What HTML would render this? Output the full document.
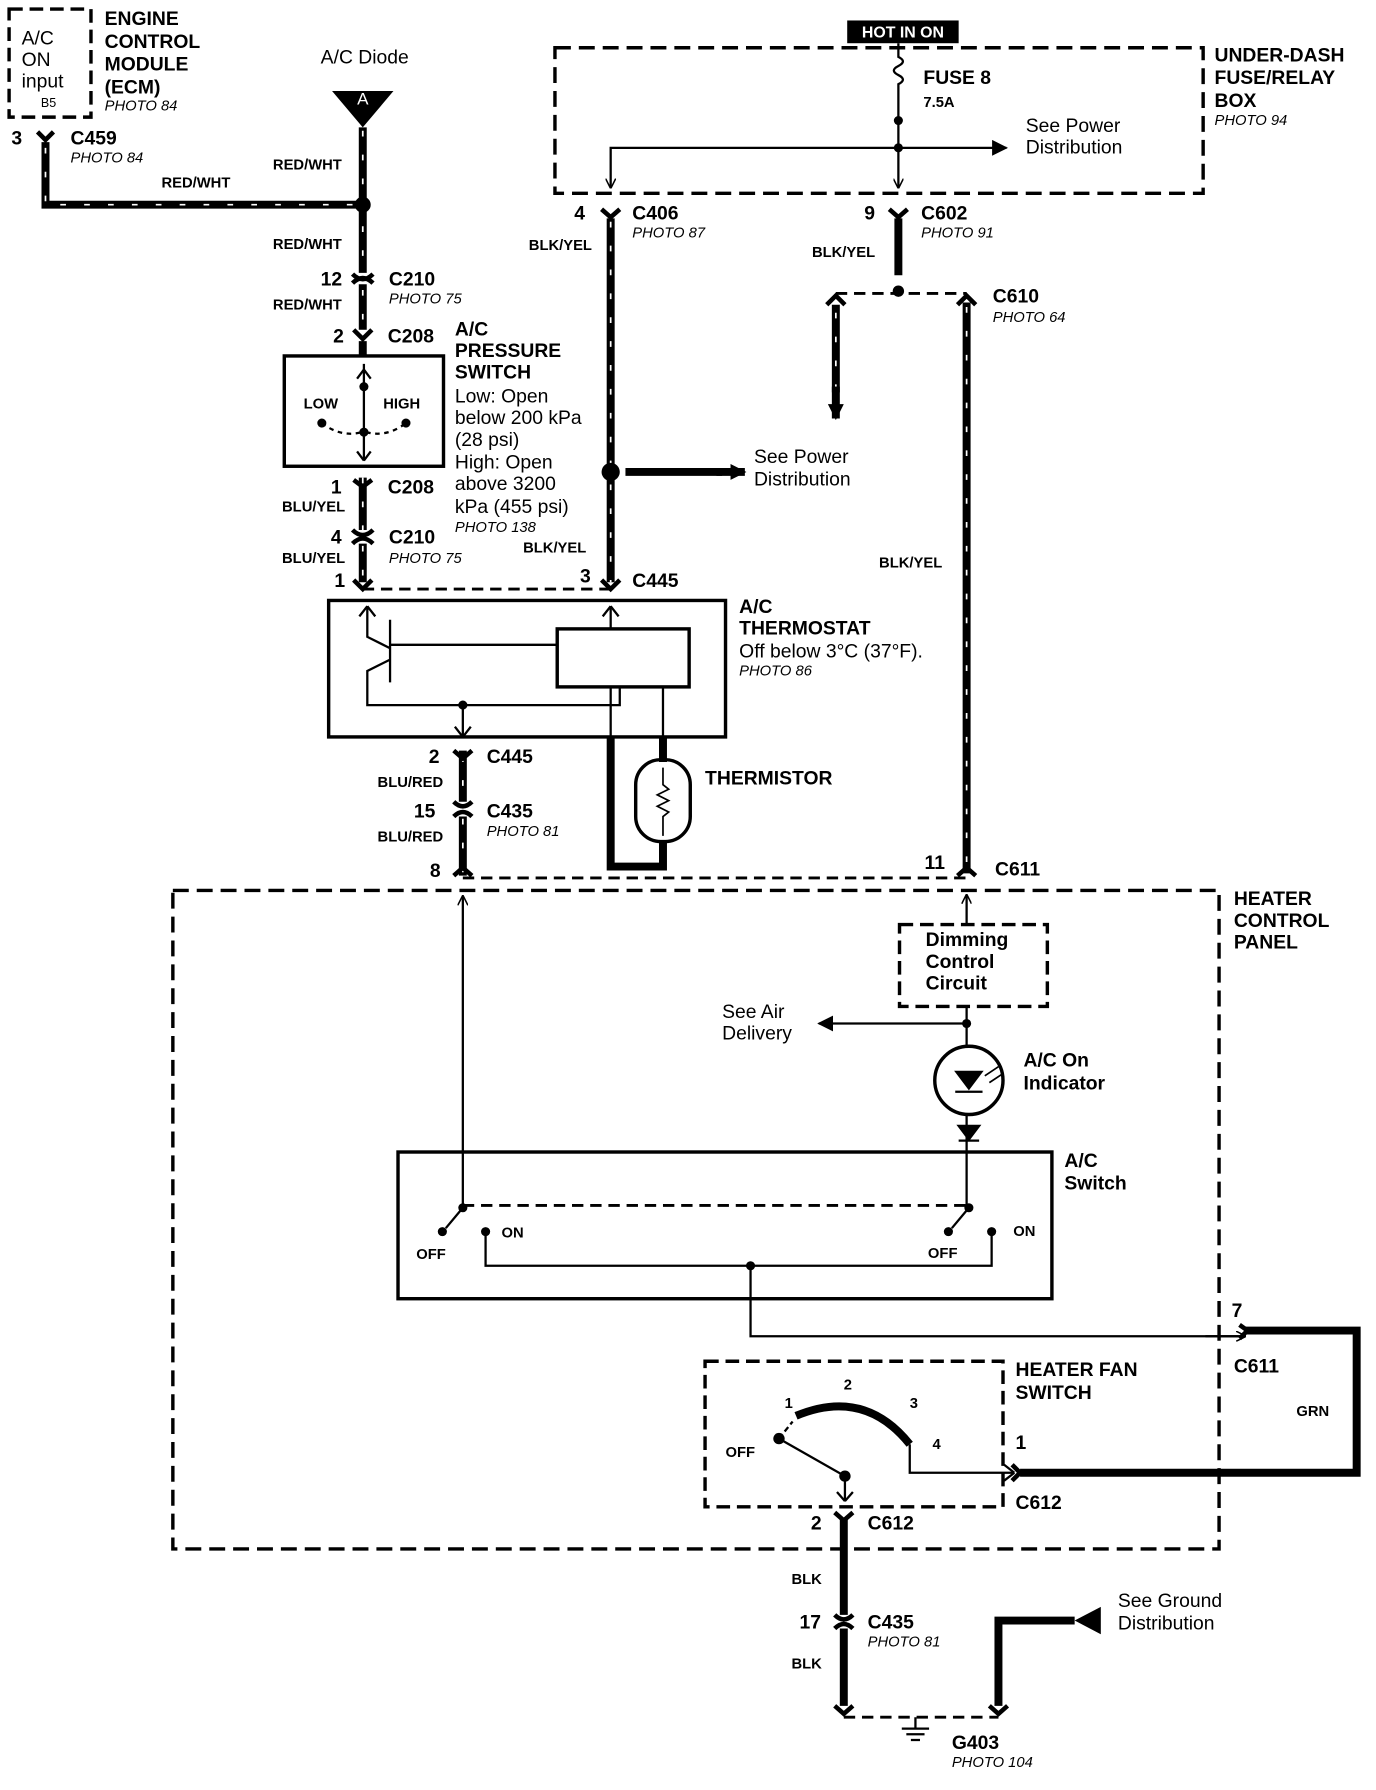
<!DOCTYPE html>
<html><head><meta charset="utf-8">
<style>
html,body{margin:0;padding:0;background:#fff;}
svg{display:block;}
text{font-family:"Liberation Sans",Arial,sans-serif;fill:#000;}
.b{font-weight:bold;font-size:17px;}
.s{font-weight:bold;font-size:13px;}
.n{font-size:17px;}
.p{font-style:italic;font-size:13px;}
</style></head><body>
<svg width="1376" height="1790" viewBox="0 0 1210 1574" preserveAspectRatio="none" xmlns="http://www.w3.org/2000/svg">
<defs>
<marker id="ar" viewBox="0 0 10 10" refX="9" refY="5" markerWidth="9" markerHeight="9" orient="auto-start-reverse" markerUnits="userSpaceOnUse"><path d="M0,0 L10,5 L0,10" fill="none" stroke="#000" stroke-width="1.5"/></marker>
<marker id="af" viewBox="0 0 10 10" refX="9" refY="5" markerWidth="14" markerHeight="14" orient="auto" markerUnits="userSpaceOnUse"><path d="M0,0 L10,5 L0,10z" fill="#000"/></marker>
</defs>
<g fill="none" stroke="#000">
<rect x="8" y="8" width="72" height="95" stroke-width="3" stroke-dasharray="12 6"/>
<rect x="488" y="42" width="570" height="128" stroke-width="3" stroke-dasharray="14 7"/>
<rect x="152" y="783" width="920" height="579" stroke-width="3" stroke-dasharray="14 7"/>
<rect x="791" y="813" width="130" height="72" stroke-width="3" stroke-dasharray="12 6"/>
<rect x="620" y="1197" width="262" height="128" stroke-width="3" stroke-dasharray="12 6"/>
<rect x="250" y="313" width="140" height="97" stroke-width="3"/>
<rect x="289" y="528" width="349" height="120" stroke-width="3"/>
<rect x="490" y="553" width="116" height="51" stroke-width="3"/>
<rect x="350" y="1013" width="575" height="129" stroke-width="3"/>
<g stroke-width="7">
<path d="M40,125 V180 H319"/>
<path d="M319,112 V240 M319,250 V290 M319,300 V313"/>
<path d="M319,420 V466 M319,478 V512"/>
<path d="M537,192 V512"/>
<path d="M407,660 V705 M407,718 V770"/>
<path d="M850,266 V768"/>
<path d="M790,192 V242"/>
<path d="M735,268 V345"/>
<path d="M550,415 H635"/>
<path d="M742,1335 V1420 M742,1432 V1500"/>
<path d="M878,1500 V1425 H945"/>
<path d="M1095,1170 H1193 V1295 H897"/>
<path d="M537,648 V762 H583 V740 M583,648 V670"/>
</g>
<g stroke="#fff" stroke-width="1.5" stroke-dasharray="5 16">
<path d="M40,130 V180 H319"/><path d="M319,115 V240 M319,255 V290"/><path d="M319,420 V466 M319,480 V512"/>
<path d="M537,195 V512"/><path d="M407,665 V705 M407,720 V770"/><path d="M850,270 V768"/><path d="M735,275 V340"/>
</g>
<path d="M735,340 V368" stroke-width="7" marker-end="url(#af)"/>
<path d="M630,415 H655" stroke-width="7" marker-end="url(#af)"/>
<g stroke-width="2.5" stroke-dasharray="10 6">
<path d="M319,518 H537"/><path d="M407,772 H850"/><path d="M735,258 H850"/><path d="M742,1510 H878"/>
<path d="M407,1060 H852"/>
</g>
<path d="M790,38 V50 q8,4 0,8 q-8,4 0,8 q8,4 0,8 V165" stroke-width="2" marker-end="url(#ar)"/>
<path d="M790,130 H885" stroke-width="2" marker-end="url(#af)"/>
<path d="M790,130 H537 V165" stroke-width="2" marker-end="url(#ar)"/>
<path d="M320,320 V405" stroke-width="2"/>
<path d="M320,325 l-6,8 M320,325 l6,8 M320,405 l-6,-8 M320,405 l6,-8" stroke-width="2"/>
<path d="M283,372 Q300,385 318,380 M322,380 Q340,385 357,372" stroke-width="2" stroke-dasharray="4 4"/>
<path d="M343,545 V600 M343,567 H490 M323,533 V560 L343,570 M343,580 L323,590 V620 H545 V604 M407,620 V648 M537,553 V533 M537,604 V648 M583,604 V648" stroke-width="2"/>
<path d="M407,648 l-7,-9 M407,648 l7,-9 M323,533 l-7,9 M323,533 l7,9 M537,533 l-7,9 M537,533 l7,9" stroke-width="2"/>
<rect x="559" y="668" width="48" height="72" rx="22" stroke-width="3"/>
<path d="M583,675 V690 l5,4 -10,5 10,5 -10,5 10,5 -5,4 V735" stroke-width="1.5"/>
<path d="M407,1060 V788" stroke-width="2" marker-end="url(#ar)"/>
<path d="M850,813 V787" stroke-width="2" marker-end="url(#ar)"/>
<path d="M850,885 V920 M850,980 V1060" stroke-width="2"/>
<path d="M850,900 H720" stroke-width="2" marker-end="url(#af)"/>
<circle cx="852" cy="950" r="30" stroke-width="3"/>
<path d="M840,942 H864 L852,958 Z" fill="#000" stroke-width="1"/><path d="M840,960 H864" stroke-width="2"/>
<path d="M866,946 l12,-8 M870,952 l12,-8" stroke-width="1.5"/>
<path d="M843,990 H861 L852,1002 Z M843,1003 H861" fill="#000" stroke-width="2"/>
<path d="M407,1062 L392,1080 M852,1062 L837,1080" stroke-width="2"/>
<path d="M427,1083 V1113 H872 V1083 M660,1113 V1175 H1093" stroke-width="2"/>
<path d="M1060,1175 H1095" stroke-width="2" marker-end="url(#ar)"/>
<path d="M700,1245 Q760,1220 800,1270" stroke-width="7"/>
<path d="M685,1265 L697,1250" stroke-width="2" stroke-dasharray="5 3"/>
<path d="M685,1265 L743,1298 V1320 M800,1270 V1295 H892" stroke-width="2"/>
<path d="M743,1320 l-7,-8 M743,1320 l7,-8 M892,1295 l-9,-7 M892,1295 l-9,7" stroke-width="2"/>
<path d="M805,1510 V1520 M793,1520 H817 M797,1525 H813 M801,1530 H809" stroke-width="2"/>
</g>
<path d="M292,80 H346 L319,112 Z" fill="#000"/>
<text x="319" y="92" text-anchor="middle" style="fill:#fff;font-size:15px">A</text>
<path d="M945,1425 L968,1413 V1437 Z" fill="#000"/>
<g fill="#000">
<circle cx="319" cy="180" r="7"/><circle cx="537" cy="415" r="8"/><circle cx="790" cy="106" r="4"/><circle cx="790" cy="130" r="4"/>
<circle cx="790" cy="256" r="5"/><circle cx="320" cy="340" r="4"/><circle cx="320" cy="380" r="4"/><circle cx="283" cy="372" r="4"/><circle cx="357" cy="372" r="4"/>
<circle cx="407" cy="620" r="4"/><circle cx="850" cy="900" r="4"/><circle cx="407" cy="1062" r="4"/><circle cx="852" cy="1062" r="4"/>
<circle cx="389" cy="1083" r="4"/><circle cx="427" cy="1083" r="4"/><circle cx="834" cy="1083" r="4"/><circle cx="872" cy="1083" r="4"/><circle cx="660" cy="1113" r="4"/>
<circle cx="685" cy="1265" r="5"/><circle cx="743" cy="1298" r="5"/>
</g>
<g stroke="#000" stroke-width="4" fill="none">
<path d="M33,116 L40,123 L47,116 M310,241 Q319,250 328,241 M310,249 Q319,240 328,249 M311,290 L319,298 L327,290 M311,422 L319,428 L327,422 M310,466 Q319,475 328,466 M310,478 Q319,469 328,478 M311,510 L319,518 L327,510"/>
<path d="M529,184 L537,191 L545,184 M529,510 L537,518 L545,510 M782,184 L790,191 L798,184 M727,268 L735,260 L743,268 M842,268 L850,260 L858,268"/>
<path d="M399,660 L407,667 L415,660 M399,705 Q407,713 415,705 M399,718 Q407,710 415,718 M399,770 L407,763 L415,770 M842,770 L850,763 L858,770"/>
<path d="M1090,1165 L1097,1170 L1090,1177 M890,1288 L897,1295 L890,1302 M734,1330 L742,1337 L750,1330 M734,1420 Q742,1428 750,1420 M734,1432 Q742,1424 750,1432 M734,1500 L742,1507 L750,1500 M870,1500 L878,1507 L886,1500"/>
</g>
<rect x="745" y="18" width="98" height="20" fill="#000"/>
<text x="794" y="33" text-anchor="middle" style="fill:#fff;font-size:14px;font-weight:bold">HOT IN ON</text>
<text class="n" x="19" y="39">A/C</text><text class="n" x="19" y="58">ON</text><text class="n" x="19" y="77">input</text><text x="36" y="94" style="font-size:11px">B5</text>
<text class="b" x="92" y="22">ENGINE</text><text class="b" x="92" y="42">CONTROL</text><text class="b" x="92" y="62">MODULE</text><text class="b" x="92" y="82">(ECM)</text><text class="p" x="92" y="97">PHOTO 84</text>
<text class="b" x="10" y="127">3</text><text class="b" x="62" y="127">C459</text><text class="p" x="62" y="143">PHOTO 84</text>
<text class="s" x="142" y="165">RED/WHT</text><text class="n" x="282" y="56">A/C Diode</text>
<text class="s" x="240" y="149">RED/WHT</text><text class="s" x="240" y="219">RED/WHT</text><text class="s" x="240" y="272">RED/WHT</text>
<text class="b" x="282" y="251">12</text><text class="b" x="342" y="251">C210</text><text class="p" x="342" y="267">PHOTO 75</text>
<text class="b" x="293" y="301">2</text><text class="b" x="341" y="301">C208</text>
<text class="s" x="267" y="359">LOW</text><text class="s" x="337" y="359">HIGH</text>
<text class="b" x="400" y="295">A/C</text><text class="b" x="400" y="314">PRESSURE</text><text class="b" x="400" y="333">SWITCH</text>
<text class="n" x="400" y="354">Low: Open</text><text class="n" x="400" y="373">below 200 kPa</text><text class="n" x="400" y="392">(28 psi)</text><text class="n" x="400" y="412">High: Open</text><text class="n" x="400" y="431">above 3200</text><text class="n" x="400" y="451">kPa (455 psi)</text><text class="p" x="400" y="468">PHOTO 138</text>
<text class="b" x="291" y="434">1</text><text class="b" x="341" y="434">C208</text><text class="s" x="248" y="450">BLU/YEL</text>
<text class="b" x="291" y="478">4</text><text class="b" x="342" y="478">C210</text><text class="p" x="342" y="495">PHOTO 75</text><text class="s" x="248" y="495">BLU/YEL</text>
<text class="b" x="294" y="516">1</text><text class="b" x="510" y="512">3</text><text class="b" x="556" y="516">C445</text><text class="s" x="460" y="486">BLK/YEL</text>
<text class="b" x="505" y="193">4</text><text class="b" x="556" y="193">C406</text><text class="p" x="556" y="209">PHOTO 87</text><text class="s" x="465" y="220">BLK/YEL</text>
<text class="n" x="663" y="407">See Power</text><text class="n" x="663" y="427">Distribution</text>
<text class="b" x="812" y="74">FUSE 8</text><text class="s" x="812" y="94">7.5A</text>
<text class="n" x="902" y="116">See Power</text><text class="n" x="902" y="135">Distribution</text>
<text class="b" x="1068" y="54">UNDER-DASH</text><text class="b" x="1068" y="74">FUSE/RELAY</text><text class="b" x="1068" y="94">BOX</text><text class="p" x="1068" y="110">PHOTO 94</text>
<text class="b" x="760" y="193">9</text><text class="b" x="810" y="193">C602</text><text class="p" x="810" y="209">PHOTO 91</text><text class="s" x="714" y="226">BLK/YEL</text>
<text class="b" x="873" y="266">C610</text><text class="p" x="873" y="283">PHOTO 64</text><text class="s" x="773" y="499">BLK/YEL</text>
<text class="b" x="650" y="539">A/C</text><text class="b" x="650" y="558">THERMOSTAT</text><text class="n" x="650" y="578">Off below 3°C (37°F).</text><text class="p" x="650" y="594">PHOTO 86</text>
<text class="b" x="620" y="690">THERMISTOR</text>
<text class="b" x="377" y="671">2</text><text class="b" x="428" y="671">C445</text><text class="s" x="332" y="692">BLU/RED</text>
<text class="b" x="364" y="719">15</text><text class="b" x="428" y="719">C435</text><text class="p" x="428" y="735">PHOTO 81</text><text class="s" x="332" y="740">BLU/RED</text>
<text class="b" x="378" y="771">8</text><text class="b" x="813" y="764">11</text><text class="b" x="875" y="770">C611</text>
<text class="b" x="1085" y="796">HEATER</text><text class="b" x="1085" y="815">CONTROL</text><text class="b" x="1085" y="834">PANEL</text>
<text class="b" x="814" y="832">Dimming</text><text class="b" x="814" y="851">Control</text><text class="b" x="814" y="870">Circuit</text>
<text class="n" x="635" y="895">See Air</text><text class="n" x="635" y="914">Delivery</text>
<text class="b" x="900" y="938">A/C On</text><text class="b" x="900" y="958">Indicator</text>
<text class="b" x="936" y="1026">A/C</text><text class="b" x="936" y="1046">Switch</text>
<text class="s" x="366" y="1107">OFF</text><text class="s" x="441" y="1088">ON</text><text class="s" x="816" y="1106">OFF</text><text class="s" x="891" y="1087">ON</text>
<text class="b" x="1083" y="1158">7</text><text class="b" x="1085" y="1207">C611</text><text class="s" x="1140" y="1245">GRN</text>
<text class="b" x="893" y="1210">HEATER FAN</text><text class="b" x="893" y="1230">SWITCH</text>
<text class="s" x="690" y="1238">1</text><text class="s" x="742" y="1222">2</text><text class="s" x="800" y="1238">3</text><text class="s" x="820" y="1274">4</text><text class="s" x="638" y="1281">OFF</text>
<text class="b" x="893" y="1274">1</text><text class="b" x="893" y="1327">C612</text>
<text class="b" x="713" y="1345">2</text><text class="b" x="763" y="1345">C612</text>
<text class="s" x="696" y="1393">BLK</text><text class="b" x="703" y="1432">17</text><text class="b" x="763" y="1432">C435</text><text class="p" x="763" y="1448">PHOTO 81</text><text class="s" x="696" y="1467">BLK</text>
<text class="b" x="837" y="1538">G403</text><text class="p" x="837" y="1554">PHOTO 104</text>
<text class="n" x="983" y="1413">See Ground</text><text class="n" x="983" y="1433">Distribution</text>
</svg>
</body></html>
